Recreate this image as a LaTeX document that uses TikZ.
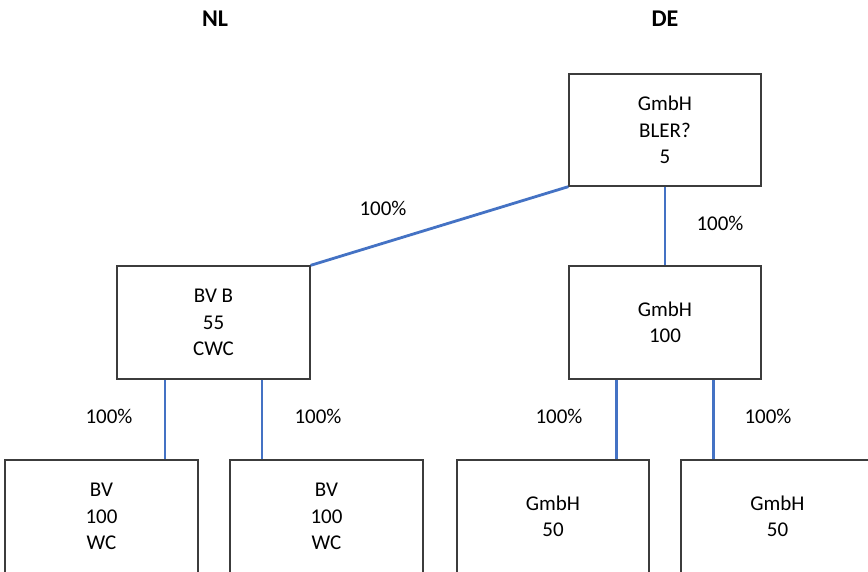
\documentclass[tikz,border=0pt]{standalone}
\usepackage{fontspec}
\setmainfont{Carlito}
\usetikzlibrary{calc}
\definecolor{linkblue}{HTML}{4472C4}
\definecolor{boxgray}{HTML}{3C3C3C}
\begin{document}
\begin{tikzpicture}[x=1pt,y=-1pt,
  entity/.style={draw=boxgray,line width=1.3pt,fill=white,rectangle,align=center,
    minimum width=193pt,minimum height=113pt,inner sep=0pt,
    font=\fontsize{21}{26.5}\selectfont},
  link/.style={draw=linkblue,line width=2.8pt},
  pct/.style={font=\fontsize{21}{24}\selectfont,inner sep=0pt},
  country/.style={font=\fontsize{24}{28}\selectfont\bfseries,inner sep=0pt}]
\useasboundingbox (0,0) rectangle (868,572);
\clip (0,0) rectangle (868,572);
\fill[white] (0,0) rectangle (868,572);

\node[country] (nl) at (215,19) {NL};
\node[country] (de) at (665,19) {DE};

\node[entity,minimum width=192pt,minimum height=112pt] (top) at (665,130) {GmbH\\BLER?\\5};
\node[entity] (bvb) at (213.5,322.5) {BV B\\55\\CWC};
\node[entity,minimum width=192pt] (g100) at (665,322.5) {GmbH\\100};
\node[entity] (b1) at (101.5,516.5) {BV\\100\\WC};
\node[entity] (b2) at (326.5,516.5) {BV\\100\\WC};
\node[entity,minimum width=192pt] (g1) at (553,516.5) {GmbH\\50};
\node[entity] (g2) at (777.5,516.5) {GmbH\\50};

\coordinate (p1) at ($(bvb.south west)!0.25!(bvb.south east)$);
\coordinate (p2) at ($(bvb.south west)!0.75!(bvb.south east)$);
\coordinate (p3) at ($(g100.south west)!0.25!(g100.south east)$);
\coordinate (p4) at ($(g100.south west)!0.75!(g100.south east)$);

\draw[link] (top.south west) -- (bvb.north east);
\draw[link] (top.south) -- (g100.north);
\draw[link] (p1) -- (p1 |- b1.north);
\draw[link] (p2) -- (p2 |- b2.north);
\draw[link] (p3) -- (p3 |- g1.north);
\draw[link] (p4) -- (p4 |- g2.north);

\node[pct] (l1) at (383,208) {100\%};
\node[pct] (l2) at (720,223) {100\%};
\node[pct] (l3) at (109,416) {100\%};
\node[pct] (l4) at (318,416) {100\%};
\node[pct] (l5) at (559,416) {100\%};
\node[pct] (l6) at (768,416) {100\%};
\end{tikzpicture}
\end{document}
